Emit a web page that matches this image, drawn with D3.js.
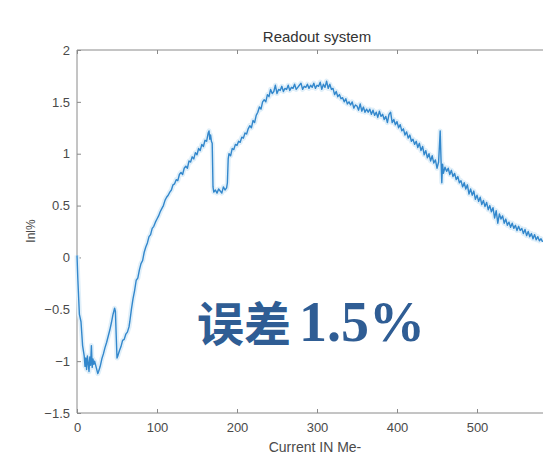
<!DOCTYPE html>
<html><head><meta charset="utf-8">
<script src="https://cdn.jsdelivr.net/npm/d3@7"></script>
<style>body{margin:0;background:#fff}svg{display:block}</style>
</head><body>
<svg id="c" width="543" height="455"></svg>
<script>
const titleText = "Readout system";
const xLabel = "Current IN Me-";
const yLabel = "Inl%";
const overlayCJK = "误差";
const overlayNum = "1.5%";
const xTicks = [0, 100, 200, 300, 400, 500];
const yTicks = [-1.5, -1, -0.5, 0, 0.5, 1, 1.5, 2];
const xs = [0,1,2,3,5,7,9,10,11,12,13,14,15,16,17,18,19,20,21,22,24,26,27,29,31,33,35,37,39,41,43,45,47,48,49,50,51,53,55,57,59,61,63,65,66,68,70,72,74,76,78,80,82,84,86,88,90,92,94,96,98,100,102,104,106,108,110,112,114,116,118,120,122,124,126,128,130,132,134,136,138,140,142,144,146,148,150,152,154,156,158,160,162,164,165,166,167,168,169,170,171,173,175,177,179,181,183,185,187,188,189,190,192,194,196,198,200,202,204,206,208,210,212,214,216,218,220,222,224,226,228,230,232,234,236,238,240,242,244,246,248,250,252,254,256,258,260,262,264,266,268,270,272,274,276,278,280,282,284,286,288,290,292,294,296,298,300,302,304,306,308,310,312,314,316,318,320,322,324,326,328,330,332,334,336,338,340,342,344,346,348,350,352,354,356,358,360,362,364,366,368,370,372,374,376,378,380,382,384,386,388,390,392,394,396,398,400,402,404,406,408,410,412,414,416,418,420,422,424,426,428,430,432,434,436,438,440,442,444,446,448,450,452,454,455,456,457,458,460,462,464,466,468,470,472,474,476,478,480,482,484,486,488,490,492,494,496,498,500,502,504,506,508,510,512,514,516,518,520,522,524,526,528,530,532,534,536,538,540,542,544,546,548,550,552,554,556,558,560,562,564,566,568,570,572,574,576,578,580,582];
const ys = [0.02,-0.2,-0.38,-0.55,-0.62,-0.85,-0.95,-1.05,-0.97,-1.08,-0.95,-1.02,-1.1,-0.96,-1.04,-0.85,-1.06,-0.98,-1.03,-1.0,-1.06,-1.12,-1.1,-1.05,-0.98,-0.93,-0.87,-0.82,-0.76,-0.7,-0.63,-0.55,-0.49,-0.52,-0.75,-0.97,-0.95,-0.9,-0.86,-0.8,-0.79,-0.74,-0.72,-0.67,-0.62,-0.5,-0.4,-0.32,-0.22,-0.2,-0.12,-0.06,-0.03,0.05,0.1,0.14,0.2,0.22,0.28,0.3,0.34,0.37,0.4,0.44,0.47,0.5,0.55,0.58,0.6,0.63,0.65,0.7,0.71,0.75,0.74,0.8,0.82,0.8,0.86,0.88,0.86,0.93,0.92,0.97,0.95,1.01,0.99,1.05,1.03,1.09,1.07,1.13,1.12,1.2,1.22,1.14,1.18,1.12,1.1,0.68,0.63,0.65,0.62,0.66,0.64,0.62,0.68,0.65,0.67,0.72,0.95,1.0,0.98,1.05,1.04,1.09,1.08,1.12,1.11,1.16,1.15,1.2,1.19,1.24,1.27,1.25,1.32,1.3,1.37,1.4,1.45,1.43,1.5,1.52,1.5,1.57,1.55,1.62,1.58,1.6,1.66,1.58,1.62,1.61,1.65,1.6,1.63,1.62,1.66,1.61,1.64,1.63,1.67,1.62,1.64,1.66,1.68,1.62,1.65,1.64,1.67,1.63,1.66,1.64,1.68,1.63,1.66,1.65,1.69,1.62,1.67,1.64,1.7,1.63,1.67,1.62,1.63,1.57,1.6,1.55,1.57,1.53,1.54,1.5,1.53,1.48,1.5,1.47,1.5,1.44,1.47,1.46,1.42,1.48,1.41,1.45,1.4,1.43,1.4,1.43,1.38,1.42,1.37,1.4,1.35,1.41,1.36,1.38,1.33,1.36,1.3,1.38,1.4,1.3,1.33,1.28,1.31,1.25,1.28,1.22,1.24,1.18,1.21,1.15,1.18,1.12,1.14,1.09,1.12,1.06,1.1,1.03,1.07,0.99,1.03,0.96,1.0,0.93,0.98,0.91,0.94,0.86,0.92,1.22,0.95,0.72,0.9,0.81,0.87,0.83,0.86,0.8,0.84,0.78,0.81,0.75,0.78,0.72,0.74,0.68,0.72,0.66,0.7,0.61,0.66,0.6,0.64,0.56,0.6,0.54,0.58,0.51,0.55,0.49,0.53,0.46,0.5,0.44,0.48,0.38,0.45,0.33,0.42,0.37,0.4,0.33,0.37,0.31,0.34,0.29,0.33,0.28,0.31,0.26,0.3,0.26,0.28,0.23,0.27,0.21,0.25,0.2,0.23,0.18,0.22,0.17,0.2,0.16,0.18,0.15];

const svg = d3.select("#c");
const x = d3.scaleLinear().domain([0, 600]).range([77, 557]);
const y = d3.scaleLinear().domain([-1.5, 2]).range([413, 50]);
const axisColor = "#8a8a8a", textColor = "#4a4a4a";
const font = "Liberation Sans, Arial, sans-serif";

// box lines
svg.append("line").attr("x1", x(0)).attr("x2", x(600)).attr("y1", y(2)).attr("y2", y(2)).attr("stroke", axisColor);
svg.append("line").attr("x1", x(0)).attr("x2", x(600)).attr("y1", y(-1.5)).attr("y2", y(-1.5)).attr("stroke", axisColor);
svg.append("line").attr("x1", x(0)).attr("x2", x(0)).attr("y1", y(2)).attr("y2", y(-1.5)).attr("stroke", axisColor);

// axes
const xAx = d3.axisBottom(x).tickValues(xTicks).tickSizeInner(-4).tickSizeOuter(0).tickPadding(10);
const gx = svg.append("g").attr("transform", `translate(0,${y(-1.5)})`).call(xAx);
const xTop = d3.axisTop(x).tickValues(xTicks).tickSizeInner(-4).tickSizeOuter(0).tickFormat("");
const gxt = svg.append("g").attr("transform", `translate(0,${y(2)})`).call(xTop);
const yAx = d3.axisLeft(y).tickValues(yTicks).tickSizeInner(-4).tickSizeOuter(0).tickPadding(7).tickFormat(d => d3.format("")(d));
const gy = svg.append("g").attr("transform", `translate(${x(0)},0)`).call(yAx);
[gx, gxt, gy].forEach(g => {
  g.select(".domain").remove();
  g.selectAll(".tick line").attr("stroke", axisColor);
  g.selectAll("text").attr("fill", textColor).style("font-family", font).style("font-size", "13px");
});

// data line
const pts = xs.map((v, i) => [v, ys[i]]);
const line = d3.line().x(d => x(d[0])).y(d => y(d[1]));
svg.append("path").datum(pts).attr("d", line).attr("fill", "none").attr("stroke", "#e0eff9").attr("stroke-width", 5).attr("stroke-linejoin", "round");
svg.append("path").datum(pts).attr("d", line).attr("fill", "none").attr("stroke", "#3287cc").attr("stroke-width", 1.4).attr("stroke-linejoin", "round");

// titles
svg.append("text").attr("x", 317).attr("y", 42).attr("text-anchor", "middle").attr("fill", "#333").style("font-family", font).style("font-size", "15px").text(titleText);
svg.append("text").attr("x", 315).attr("y", 452).attr("text-anchor", "middle").attr("fill", textColor).style("font-family", font).style("font-size", "14px").text(xLabel);
svg.append("text").attr("transform", "translate(35,231) rotate(-90)").attr("text-anchor", "middle").attr("fill", textColor).style("font-family", font).style("font-size", "12px").text(yLabel);

// overlay annotation
const ov = svg.append("text").attr("x", 197).attr("y", 341).attr("fill", "#2f5d94");
ov.append("tspan").style("font-family", "Noto Sans CJK SC").style("font-weight", "bold").style("font-size", "47px").text(overlayCJK);
ov.append("tspan").attr("dx", 8).style("font-family", "Liberation Serif, Times New Roman, serif").style("font-weight", "bold").style("font-size", "56px").text(overlayNum);
</script>
</body></html>
